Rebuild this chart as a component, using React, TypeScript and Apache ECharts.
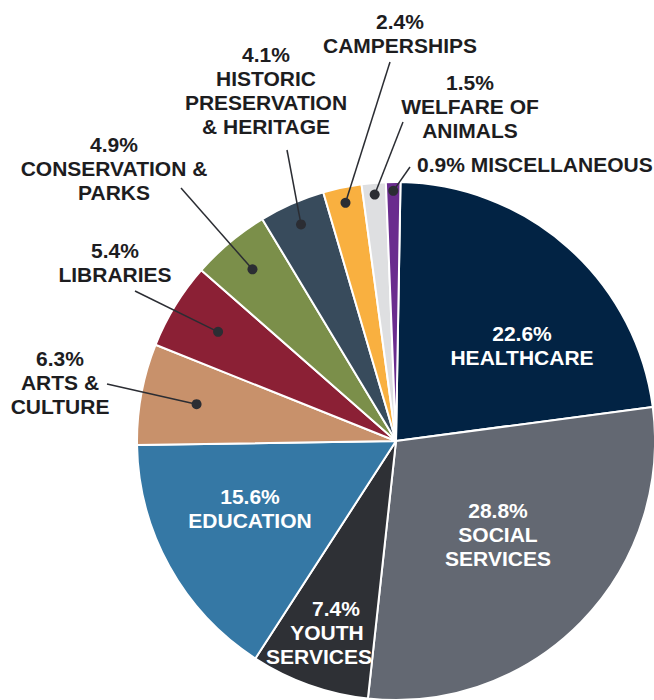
import React, { useEffect, useRef } from "react";
import * as echarts from "echarts";

// ---- data ----
const categories = [
  "HEALTHCARE",
  "SOCIAL\nSERVICES",
  "YOUTH\nSERVICES",
  "EDUCATION",
  "ARTS &\nCULTURE",
  "LIBRARIES",
  "CONSERVATION &\nPARKS",
  "HISTORIC\nPRESERVATION\n& HERITAGE",
  "CAMPERSHIPS",
  "WELFARE OF\nANIMALS",
  "MISCELLANEOUS",
];
const values = [22.6, 28.8, 7.4, 15.6, 6.3, 5.4, 4.9, 4.1, 2.4, 1.5, 0.9];

// ---- styles / layout ----
const colors = [
  "#022344",
  "#636872",
  "#2e3035",
  "#3578a5",
  "#c8916b",
  "#8b2035",
  "#7b8f4a",
  "#384b5c",
  "#f9b040",
  "#dedfe1",
  "#6a2c8e",
];
const insideLabel = [true, true, true, true, false, false, false, false, false, false, false];
const singleLine = [false, false, false, false, false, false, false, false, false, false, true];
const staggered = [false, false, true, false, false, false, false, false, false, false, false];
const labelAnchors: number[][] = [
  [522, 345.5],
  [498, 534.5],
  [327, 632.5],
  [250, 508],
  [60, 382.5],
  [115, 262.5],
  [114, 168],
  [266, 90],
  [400, 33],
  [470, 106],
  [417, 164.5],
];
const lineEnds: (number[] | null)[] = [
  null, null, null, null,
  [107, 384],
  [135, 291],
  [181, 188],
  [287, 150],
  [390, 62],
  [403, 122],
  [410, 167],
];
const dotRadius = [0, 0, 0, 0, 0.783, 0.806, 0.864, 0.913, 0.94, 0.955, 0.966];

const CX = 396;
const CY = 441;
const R = 259;
const START = 89;
const FONT = "'Liberation Sans', Arial, sans-serif";
const DARK = "#2b2d33";

function dotPoint(i: number): number[] {
  const total = values.reduce((a, b) => a + b, 0);
  let cum = 0;
  for (let k = 0; k < i; k++) cum += values[k];
  const f = (cum + values[i] / 2) / total;
  const th = ((START - 360 * f) * Math.PI) / 180;
  const r = R * dotRadius[i];
  return [CX + r * Math.cos(th), CY - r * Math.sin(th)];
}

export default function App() {
  const ref = useRef<HTMLDivElement>(null);
  useEffect(() => {
    if (!ref.current) return;
    const chart = echarts.init(ref.current, undefined, { renderer: "svg" });

    const txt = {
      fontFamily: FONT,
      fontWeight: "bold" as const,
      fontSize: 21,
      lineHeight: 24,
      color: "#ffffff",
    };

    const data = categories.map((name, i) => ({
      name,
      value: values[i],
      itemStyle: { color: colors[i] },
      label: insideLabel[i]
        ? { position: "inside" as const, color: "#ffffff" }
        : { position: "outside" as const, color: "#1d1d1f" },
    }));

    const outer = categories.map((_, i) => i).filter((i) => !insideLabel[i]);
    const leaders: any[] = [];
    outer.forEach((i) => {
      const p = dotPoint(i);
      const e = lineEnds[i] as number[];
      leaders.push({
        type: "line",
        z: 100,
        silent: true,
        shape: { x1: p[0], y1: p[1], x2: e[0], y2: e[1] },
        style: { stroke: DARK, lineWidth: 1.5 },
      });
    });
    outer.forEach((i) => {
      const p = dotPoint(i);
      leaders.push({
        type: "circle",
        z: 101,
        silent: true,
        shape: { cx: p[0], cy: p[1], r: 5 },
        style: { fill: DARK },
      });
    });

    chart.setOption({
      animation: false,
      backgroundColor: "#ffffff",
      graphic: leaders,
      series: [
        {
          type: "pie",
          center: [CX, CY],
          radius: [0, R],
          startAngle: START,
          clockwise: true,
          avoidLabelOverlap: false,
          emphasis: { disabled: true },
          itemStyle: { borderColor: "#ffffff", borderWidth: 2 },
          label: {
            show: true,
            fontFamily: FONT,
            fontWeight: "bold",
            fontSize: 21,
            lineHeight: 24,
            align: "center",
            rich: {
              s1: { ...txt, padding: [0, 0, 0, 18] },
              s2: { ...txt },
              s3: { ...txt, padding: [0, 16, 0, 0] },
            },
            formatter: (p: any) => {
              const i = p.dataIndex;
              const pct = values[i].toFixed(1) + "%";
              if (singleLine[i]) return pct + " " + categories[i];
              if (staggered[i]) {
                const parts = categories[i].split("\n");
                return "{s1|" + pct + "}\n{s2|" + parts[0] + "}\n{s3|" + parts[1] + "}";
              }
              return pct + "\n" + categories[i];
            },
          },
          labelLine: { show: false },
          labelLayout: (params: any) => {
            const i = params.dataIndex;
            const a = labelAnchors[i];
            return {
              x: a[0],
              y: a[1],
              align: singleLine[i] ? "left" : "center",
              verticalAlign: "middle",
            };
          },
          data,
        },
      ],
    });
    return () => chart.dispose();
  }, []);
  return (
    <div
      ref={ref}
      style={{ position: "fixed", left: 0, top: 0, width: 654, height: 700 }}
    />
  );
}
